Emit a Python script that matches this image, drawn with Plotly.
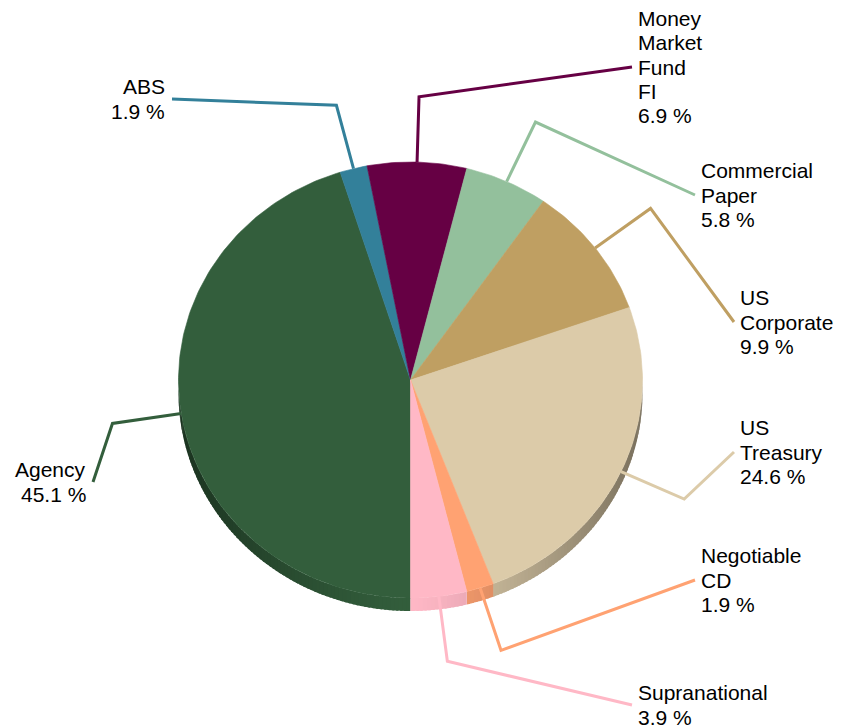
import math
import plotly.graph_objects as go

# ---- data ----
categories = ["Agency", "ABS", "Money Market Fund FI", "Commercial Paper",
              "US Corporate", "US Treasury", "Negotiable CD", "Supranational"]
label_text = ["Agency", "ABS", "Money\nMarket\nFund\nFI", "Commercial\nPaper",
              "US\nCorporate", "US\nTreasury", "Negotiable\nCD", "Supranational"]
values = [45.1, 1.9, 6.9, 5.8, 9.9, 24.6, 1.9, 3.9]

# ---- styles / layout ----
colors = ["#335E3C", "#33809A", "#660044", "#93C09C",
          "#BF9F62", "#DCCBA9", "#FFA272", "#FFB8C6"]
# label anchor (end of leader line) and side of text, in pixel layout space
label_anchor = {
    "Agency": (93, 482, "right"),
    "ABS": (172, 99, "right"),
    "Money Market Fund FI": (632, 67, "left"),
    "Commercial Paper": (695, 195, "left"),
    "US Corporate": (734, 322, "left"),
    "US Treasury": (734, 452, "left"),
    "Negotiable CD": (695, 580, "left"),
    "Supranational": (632, 705, "left"),
}
W, H = 854, 728
CX, CY, RX, RY, DEPTH = 410.5, 380.0, 232.0, 218.0, 13.0
START = 180.0  # degrees clockwise from 12 o'clock
FONT = "Liberation Sans, Arial, sans-serif"
FSIZE = 21
LINE_H = 24.3


def pt(theta, scale=1.0, dy=0.0):
    r = math.radians(theta)
    return CX + scale * RX * math.sin(r), CY - scale * RY * math.cos(r) + dy


def arc(a0, a1, dy=0.0):
    n = max(2, int(abs(a1 - a0)) + 2)
    return [pt(a0 + (a1 - a0) * i / (n - 1), dy=dy) for i in range(n)]


def shade(hexc, f):
    h = hexc.lstrip("#")
    r, g, b = (int(h[i:i + 2], 16) for i in (0, 2, 4))
    return "rgb(%d,%d,%d)" % (r * f, g * f, b * f)


total = sum(values)
angles = []
a = START
for v in values:
    span = 360.0 * v / total
    angles.append((a, a + span))
    a += span

fig = go.Figure()

# side walls (3D depth), only on the front half
STEP = 1.0
for (a0, a1), col in zip(angles, colors):
    k = 0
    while True:
        lo = a0 + k * STEP
        k += 1
        if lo >= a1:
            break
        hi = min(a1, lo + STEP * 1.6)
        mid = ((lo + min(a1, lo + STEP)) / 2) % 360
        if not (88 <= mid <= 272):
            continue
        s = abs(math.sin(math.radians(mid)))
        f = 1.0 - 0.45 * s ** 1.3
        top = arc(lo, hi)
        bot = arc(hi, lo, dy=DEPTH)
        pts = top + bot
        fig.add_trace(go.Scatter(
            x=[p[0] for p in pts], y=[p[1] for p in pts], mode="lines",
            fill="toself", fillcolor=shade(col, f),
            line=dict(width=0), hoverinfo="skip", showlegend=False))

# leader lines
for cat, (a0, a1), col in zip(categories, angles, colors):
    mid = (a0 + a1) / 2
    p0 = pt(mid)
    p1 = pt(mid, 1.3)
    ex, ey, side = label_anchor[cat]
    fig.add_trace(go.Scatter(
        x=[p0[0], p1[0], ex], y=[p0[1], p1[1], ey], mode="lines",
        line=dict(width=3, color=col), hoverinfo="skip", showlegend=False))

# top faces
for cat, v, (a0, a1), col in zip(categories, values, angles, colors):
    pts = [(CX, CY)] + arc(a0, a1) + [(CX, CY)]
    fig.add_trace(go.Scatter(
        x=[p[0] for p in pts], y=[p[1] for p in pts], mode="lines",
        fill="toself", fillcolor=col, line=dict(width=0.6, color=col),
        name=cat, text="%s: %.1f %%" % (cat, v), hoverinfo="text",
        showlegend=False))

# labels
annotations = []
for cat, txt, v in zip(categories, label_text, values):
    ex, ey, side = label_anchor[cat]
    lines = txt.split("\n") + ["%.1f %%" % v]
    n = len(lines)
    for i, ln in enumerate(lines):
        y = ey + (i - (n - 1) / 2) * LINE_H
        annotations.append(dict(
            x=ex + (4 if side == "left" else -5), y=y, xref="x", yref="y",
            text=ln, showarrow=False, xanchor=side, yanchor="middle",
            font=dict(family=FONT, size=FSIZE, color="#000000")))

fig.update_layout(
    width=W, height=H, margin=dict(l=0, r=0, t=0, b=0),
    paper_bgcolor="white", plot_bgcolor="white",
    xaxis=dict(range=[0, W], visible=False, fixedrange=True),
    yaxis=dict(range=[H, 0], visible=False, fixedrange=True),
    annotations=annotations, showlegend=False,
)
fig.write_html(
    "out.html",
    config={"displayModeBar": False},
    post_script="document.body.style.margin='0';document.body.style.overflow='hidden';",
)
